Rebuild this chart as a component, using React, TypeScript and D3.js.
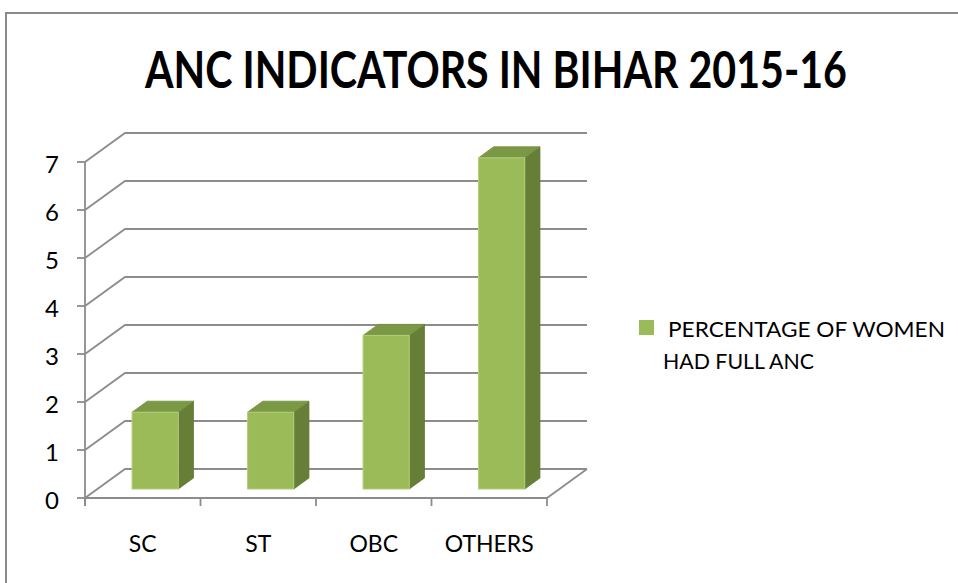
import React, { useLayoutEffect, useRef, useState } from 'react';
import * as d3 from 'd3';

// chart data
const categories = ['SC', 'ST', 'OBC', 'OTHERS'];
const values = [1.6, 1.6, 3.2, 6.9];
const yTicks = [0, 1, 2, 3, 4, 5, 6, 7];
const title = 'ANC INDICATORS IN BIHAR 2015-16';
const seriesName = ['PERCENTAGE OF WOMEN', 'HAD FULL ANC'];

const width = 958;
const height = 583;

// 3D projection of depth
const depthX = 40;
const depthY = -29;
const barZ0 = 0.31;
const barZ1 = 0.69;

const gridColor = '#8c8c8c';
const font = 'Lato, "Open Sans", "DejaVu Sans", sans-serif';
const titleWidth = 702;

const App = () => {
  const titleRef = useRef<SVGTextElement>(null);
  const [titleScale, setTitleScale] = useState(0.75);

  useLayoutEffect(() => {
    // squeeze the title horizontally so it spans the same width as the reference
    if (titleRef.current) {
      const w = titleRef.current.getComputedTextLength();
      if (w > 0) setTitleScale(titleWidth / w);
    }
  }, []);

  const x = d3.scaleBand<string>().domain(categories).range([85, 547]).padding(0);
  const y = d3.scaleLinear().domain([0, 7]).range([498, 162]);
  const barW = x.bandwidth() * 0.4;

  const x0 = x.range()[0];
  const x1 = x.range()[1];
  const tickXs = categories.map((c) => x(c) as number).concat([x1]);

  const pt = (px: number, py: number) => `${px},${py}`;

  return (
    <svg width={width} height={height} style={{ position: 'absolute', left: 0, top: 0 }}>
      <rect x={0} y={0} width={width} height={height} fill="#fff" />
      <rect x={6} y={13} width={width + 20} height={height + 20} fill="none" stroke="#8a8a8a" strokeWidth={2} />

      <g transform={`translate(496,88) scale(${titleScale},1)`}>
        <text ref={titleRef} x={0} y={0} textAnchor="middle" fontFamily={font} fontWeight="bold" fontSize={52} fill="#000">
          {title}
        </text>
      </g>

      {/* back wall gridlines and left wall diagonals */}
      <g stroke={gridColor} strokeWidth={1.8} fill="none">
        {yTicks.map((t) => (
          <polyline
            key={t}
            points={[pt(x0, y(t)), pt(x0 + depthX, y(t) + depthY), pt(x1 + depthX, y(t) + depthY)].join(' ')}
          />
        ))}
        {/* floor */}
        <line x1={x0} y1={y(0)} x2={x1} y2={y(0)} />
        <line x1={x1} y1={y(0)} x2={x1 + depthX} y2={y(0) + depthY} />
        {/* left axis */}
        <line x1={x0} y1={y(7)} x2={x0} y2={y(0) + 8} />
        {yTicks.map((t) => (
          <line key={'yt' + t} x1={x0 - 8} y1={y(t)} x2={x0} y2={y(t)} />
        ))}
        {tickXs.map((tx, i) => (
          <line key={'xt' + i} x1={tx} y1={y(0)} x2={tx} y2={y(0) + 8} />
        ))}
      </g>

      {/* bars */}
      {categories.map((c, i) => {
        const cx = (x(c) as number) + x.bandwidth() / 2;
        const fx = cx - barW / 2 + depthX * barZ0;
        const fyBase = y(0) + depthY * barZ0;
        const fyTop = y(values[i]) + depthY * barZ0;
        const dx = depthX * (barZ1 - barZ0);
        const dy = depthY * (barZ1 - barZ0);
        return (
          <g key={c}>
            <polygon
              points={[pt(fx + barW, fyTop), pt(fx + barW + dx, fyTop + dy), pt(fx + barW + dx, fyBase + dy), pt(fx + barW, fyBase)].join(' ')}
              fill="#677e37"
              stroke="#5f7532"
              strokeWidth={0.8}
            />
            <polygon
              points={[pt(fx, fyTop), pt(fx + dx, fyTop + dy), pt(fx + barW + dx, fyTop + dy), pt(fx + barW, fyTop)].join(' ')}
              fill="#7b9844"
              stroke="#728e3e"
              strokeWidth={0.8}
            />
            <rect
              x={fx}
              y={fyTop}
              width={barW}
              height={fyBase - fyTop}
              fill="#9bbb59"
              stroke="#b3cf7c"
              strokeWidth={1}
            />
          </g>
        );
      })}

      {/* y labels */}
      {yTicks.map((t) => (
        <text key={'yl' + t} x={59} y={y(t) + 11} textAnchor="end" fontFamily={font} fontSize={24} fill="#000">
          {t}
        </text>
      ))}

      {/* x labels */}
      {categories.map((c) => (
        <text
          key={'xl' + c}
          x={(x(c) as number) + x.bandwidth() / 2}
          y={552}
          textAnchor="middle"
          fontFamily={font}
          fontSize={23}
          fill="#000"
        >
          {c}
        </text>
      ))}

      {/* legend */}
      <rect x={639} y={320} width={15} height={15} fill="#9bbb59" />
      <text x={668} y={337} fontFamily={font} fontSize={21} fill="#000" textLength={277} lengthAdjust="spacingAndGlyphs">
        {seriesName[0]}
      </text>
      <text x={663} y={369} fontFamily={font} fontSize={21} fill="#000" textLength={151} lengthAdjust="spacingAndGlyphs">
        {seriesName[1]}
      </text>
    </svg>
  );
};

export default App;
